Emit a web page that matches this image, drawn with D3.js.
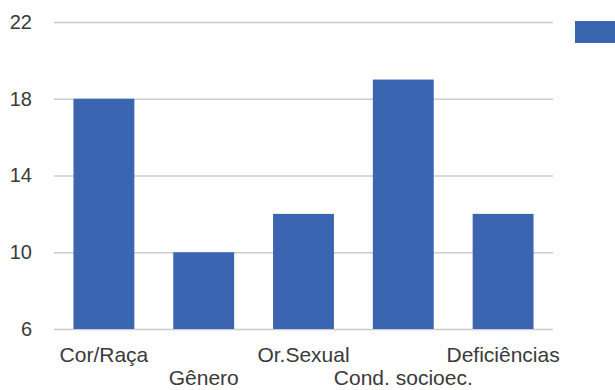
<!DOCTYPE html>
<html>
<head>
<meta charset="utf-8">
<script src="https://cdn.jsdelivr.net/npm/d3@7"></script>
<style>
  html, body { margin: 0; padding: 0; background: #fff; overflow: hidden; }
  svg { display: block; }
  text { font-family: "Liberation Sans", Arial, sans-serif; fill: #3a3a3a; }
</style>
</head>
<body>
<svg id="chart" width="615" height="390"></svg>
<script>
// Categories and values of the single series
const categories = ["Cor/Raça", "Gênero", "Or.Sexual", "Cond. socioec.", "Deficiências"];
const values = [18, 10, 12, 19, 12];
const yTicks = [6, 10, 14, 18, 22];

const svg = d3.select("#chart");
const plot = { left: 54, right: 553, top: 22, bottom: 329 };
const barColor = "#3b65b1";

const x = d3.scaleBand()
  .domain(categories)
  .range([plot.left, plot.right])
  .paddingInner(0.39)
  .paddingOuter(0.195);

const y = d3.scaleLinear()
  .domain([6, 22])
  .range([plot.bottom, plot.top]);

// Horizontal gridlines with value labels on the left
const yAxis = d3.axisLeft(y)
  .tickValues(yTicks)
  .tickSize(-(plot.right - plot.left))
  .tickPadding(22)
  .tickFormat(d3.format("d"));

const gy = svg.append("g")
  .attr("transform", `translate(${plot.left},0)`)
  .call(yAxis);
gy.select(".domain").remove();
gy.selectAll(".tick line").attr("stroke", "#cccccc").attr("stroke-width", 1.3);
gy.selectAll(".tick text")
  .style("font-size", "20px")
  .attr("fill", "#3a3a3a");

// Bars
svg.append("g")
  .selectAll("rect")
  .data(categories)
  .join("rect")
  .attr("x", d => x(d))
  .attr("width", x.bandwidth())
  .attr("y", (d, i) => y(values[i]))
  .attr("height", (d, i) => y(6) - y(values[i]))
  .attr("fill", barColor);

// Category labels, staggered on two rows
const xAxis = d3.axisBottom(x).tickSize(0).tickPadding(0);
const gx = svg.append("g")
  .attr("transform", `translate(0,${plot.bottom})`)
  .call(xAxis);
gx.select(".domain").remove();
gx.selectAll(".tick text")
  .style("font-size", "21px")
  .attr("fill", "#3a3a3a")
  .attr("dy", null)
  .attr("y", (d, i) => (i % 2 === 0 ? 33 : 56));

// Legend swatch for the series
svg.append("rect")
  .attr("x", 575)
  .attr("y", 21)
  .attr("width", 50)
  .attr("height", 22)
  .attr("fill", barColor);
</script>
</body>
</html>
